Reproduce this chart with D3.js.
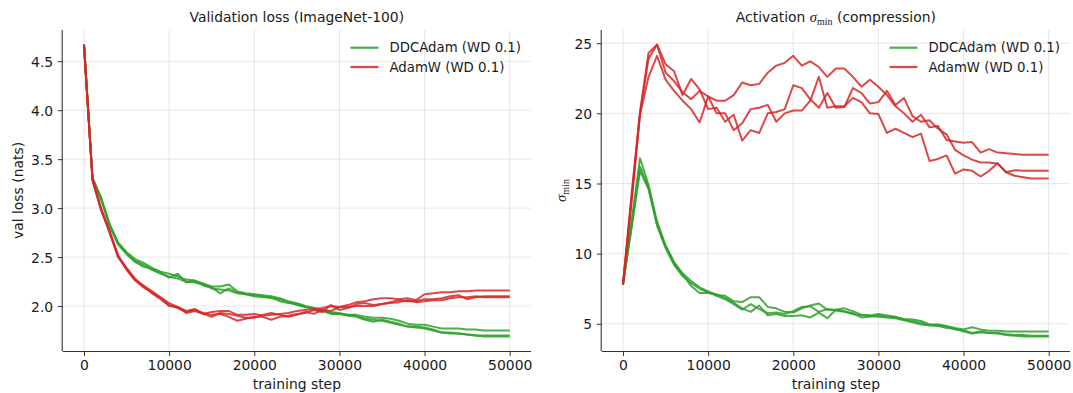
<!DOCTYPE html>
<html>
<head>
<meta charset="utf-8">
<script src="https://cdn.jsdelivr.net/npm/d3@7"></script>
<style>
  html, body { margin: 0; padding: 0; background: #ffffff; }
  svg { display: block; }
  text { font-family: "DejaVu Sans", sans-serif; fill: #1a1a1a; }
</style>
</head>
<body>
<svg id="chart" width="1073" height="393"></svg>
<script>
// Evaluation steps (every 1000 training steps)
const steps = [0,1000,2000,3000,4000,5000,6000,7000,8000,9000,10000,11000,12000,13000,14000,15000,16000,17000,18000,19000,20000,21000,22000,23000,24000,25000,26000,27000,28000,29000,30000,31000,32000,33000,34000,35000,36000,37000,38000,39000,40000,41000,42000,43000,44000,45000,46000,47000,48000,49000,50000];

// Validation loss, three seeds per optimizer
const lossDDCAdamSeed1 = [4.67,3.31,3.11,2.84,2.65,2.55,2.48,2.44,2.39,2.35,2.33,2.30,2.27,2.26,2.23,2.20,2.20,2.22,2.15,2.13,2.12,2.11,2.10,2.08,2.05,2.03,2.00,1.98,1.96,1.94,1.93,1.91,1.91,1.89,1.88,1.88,1.87,1.85,1.82,1.81,1.81,1.79,1.77,1.77,1.77,1.76,1.76,1.75,1.75,1.75,1.75];
const lossDDCAdamSeed2 = [4.67,3.30,3.09,2.82,2.63,2.53,2.45,2.40,2.38,2.34,2.29,2.33,2.24,2.26,2.21,2.19,2.13,2.18,2.14,2.12,2.11,2.10,2.08,2.07,2.04,2.01,1.99,1.97,1.95,1.93,1.92,1.90,1.89,1.86,1.84,1.86,1.84,1.82,1.79,1.79,1.78,1.76,1.73,1.73,1.72,1.71,1.70,1.70,1.70,1.70,1.70];
const lossDDCAdamSeed3 = [4.67,3.30,3.10,2.83,2.64,2.54,2.46,2.42,2.37,2.33,2.30,2.28,2.25,2.24,2.22,2.18,2.17,2.16,2.13,2.12,2.10,2.09,2.09,2.05,2.03,2.02,1.99,1.98,1.95,1.92,1.92,1.91,1.90,1.87,1.86,1.85,1.83,1.81,1.79,1.78,1.77,1.75,1.73,1.72,1.72,1.71,1.70,1.69,1.69,1.69,1.69];
const lossAdamWSeed1 = [4.67,3.29,2.99,2.75,2.50,2.38,2.27,2.21,2.15,2.09,2.03,1.99,1.95,1.97,1.92,1.94,1.95,1.95,1.91,1.91,1.92,1.90,1.91,1.92,1.93,1.95,1.96,1.97,1.98,2.00,1.99,2.01,2.04,2.05,2.07,2.08,2.08,2.07,2.08,2.06,2.12,2.13,2.14,2.14,2.15,2.15,2.16,2.16,2.16,2.16,2.16];
const lossAdamWSeed2 = [4.67,3.28,2.98,2.76,2.51,2.39,2.28,2.20,2.13,2.07,2.01,1.98,1.94,1.96,1.93,1.91,1.92,1.89,1.85,1.87,1.89,1.89,1.86,1.89,1.90,1.92,1.93,1.96,1.94,2.01,1.96,1.98,2.02,2.03,2.01,2.02,2.04,2.06,2.05,2.05,2.07,2.07,2.08,2.10,2.11,2.07,2.09,2.10,2.10,2.10,2.10];
const lossAdamWSeed3 = [4.67,3.30,3.00,2.77,2.52,2.37,2.26,2.19,2.14,2.08,2.00,1.99,1.93,1.95,1.92,1.89,1.93,1.92,1.90,1.88,1.88,1.91,1.93,1.91,1.89,1.91,1.94,1.92,1.96,1.95,1.99,1.99,2.00,2.00,2.00,2.02,2.03,2.04,2.06,2.04,2.05,2.06,2.06,2.08,2.09,2.09,2.10,2.09,2.09,2.09,2.09];

// Smallest singular value of the activations, three seeds per optimizer
const sigmaDDCAdamSeed1 = [7.8,12.3,16.8,14.9,12.3,10.6,9.4,8.6,8.05,7.6,7.3,7.05,7.0,6.6,6.55,6.9,6.9,6.2,6.1,5.85,5.8,6.1,6.3,6.45,6.0,6.0,5.9,5.75,5.45,5.5,5.6,5.5,5.45,5.35,5.3,5.2,4.95,4.95,4.85,4.7,4.6,4.75,4.6,4.5,4.5,4.45,4.45,4.45,4.45,4.45,4.45];
const sigmaDDCAdamSeed2 = [7.8,11.9,16.2,14.7,12.1,10.5,9.3,8.5,7.7,7.2,7.2,7.1,6.85,6.5,6.1,5.85,6.3,5.6,5.7,5.55,5.55,5.6,5.45,5.8,5.4,6.0,6.1,5.9,5.65,5.6,5.7,5.6,5.5,5.3,5.2,5.05,4.9,4.9,4.8,4.6,4.55,4.35,4.45,4.35,4.35,4.25,4.2,4.2,4.15,4.15,4.15];
const sigmaDDCAdamSeed3 = [7.8,11.8,15.9,14.6,12.0,10.4,9.2,8.4,7.9,7.5,7.25,7.0,6.75,6.4,6.0,6.4,6.05,5.75,5.8,5.7,5.9,6.2,6.25,5.85,6.05,5.95,5.85,5.7,5.6,5.55,5.5,5.45,5.4,5.25,5.1,4.95,4.9,4.85,4.7,4.65,4.45,4.3,4.4,4.35,4.3,4.2,4.15,4.1,4.1,4.1,4.1];
const sigmaAdamWSeed1 = [7.8,14.2,20.1,24.3,24.9,22.9,22.3,21.5,21.0,21.6,21.2,20.9,20.9,21.3,22.2,22.0,22.1,22.9,23.4,23.6,24.1,23.4,23.7,23.3,22.6,23.2,23.2,22.6,21.9,22.4,21.9,21.3,20.5,20.0,19.4,19.9,19.0,19.1,18.1,18.0,17.9,17.95,17.2,17.45,17.2,17.15,17.1,17.05,17.05,17.05,17.05];
const sigmaAdamWSeed2 = [7.8,13.9,20.0,23.9,24.9,23.5,23.0,21.3,22.45,21.7,20.3,20.4,19.4,19.9,18.05,18.8,18.6,20.0,20.1,20.3,22.0,21.8,21.0,20.4,21.45,20.4,20.45,21.8,21.45,20.7,20.8,21.6,20.6,21.1,19.8,19.4,19.5,18.9,18.5,17.4,17.0,16.7,16.5,16.5,16.4,15.8,15.55,15.45,15.35,15.35,15.35];
const sigmaAdamWSeed3 = [7.8,13.6,19.9,22.6,24.1,22.4,21.6,20.9,20.3,19.35,21.2,20.0,20.0,18.8,19.3,20.3,20.4,20.6,19.4,20.0,20.2,20.2,20.9,22.6,20.4,20.5,20.5,21.1,20.8,20.0,19.95,18.6,18.9,18.6,18.3,18.55,16.6,16.75,17.0,15.7,16.0,15.9,15.5,15.9,16.45,15.8,15.95,15.9,15.9,15.9,15.9];

// Tick values and labels
const xTicks = [0,10000,20000,30000,40000,50000];
const lossTicks = [2.0,2.5,3.0,3.5,4.0,4.5];
const sigmaTicks = [5,10,15,20,25];
const seriesNames = ["DDCAdam (WD 0.1)", "AdamW (WD 0.1)"];
const seriesColors = ["#2ca02c", "#d62728"];

const svg = d3.select("#chart");
const FS = 13.9;

function drawPanel(cfg) {
  const { left, right, top, bottom } = cfg;
  const x = d3.scaleLinear().domain([-2500, 52500]).range([left, right]);
  const all = cfg.groups.flat(2);
  const [lo, hi] = d3.extent(all);
  const pad = (hi - lo) * 0.05;
  const y = d3.scaleLinear().domain([lo - pad, hi + pad]).range([bottom, top]);

  const g = svg.append("g");

  // grid
  g.append("g").selectAll("line").data(cfg.yTicks).join("line")
    .attr("x1", left).attr("x2", right)
    .attr("y1", d => y(d)).attr("y2", d => y(d))
    .attr("stroke", "#b0b0b0").attr("stroke-opacity", 0.3).attr("stroke-width", 1);
  g.append("g").selectAll("line").data(xTicks).join("line")
    .attr("y1", top).attr("y2", bottom)
    .attr("x1", d => x(d)).attr("x2", d => x(d))
    .attr("stroke", "#b0b0b0").attr("stroke-opacity", 0.3).attr("stroke-width", 1);

  // series lines
  const line = d3.line().x((d, i) => x(steps[i])).y(d => y(d));
  cfg.groups.forEach((seeds, gi) => {
    seeds.forEach(vals => {
      g.append("path").datum(vals)
        .attr("d", line)
        .attr("fill", "none")
        .attr("stroke", seriesColors[gi])
        .attr("stroke-opacity", 0.85)
        .attr("stroke-width", 2)
        .attr("stroke-linejoin", "round");
    });
  });

  // axes
  const xAxis = d3.axisBottom(x).tickValues(xTicks).tickFormat(d3.format("d"))
    .tickSize(4.9).tickPadding(4.6);
  const gx = g.append("g").attr("transform", `translate(0,${bottom})`).call(xAxis);
  gx.select(".domain").attr("d", `M${left},0.5H${right}`);
  const yAxis = d3.axisLeft(y).tickValues(cfg.yTicks).tickFormat(cfg.yFormat)
    .tickSize(4.9).tickPadding(4.6);
  const gy = g.append("g").attr("transform", `translate(${left},0)`).call(yAxis);
  gy.select(".domain").attr("d", `M-0.5,${top}V${bottom}`);
  [gx, gy].forEach(a => {
    a.select(".domain").attr("stroke", "#333").attr("stroke-width", 1.1);
    a.selectAll(".tick line").attr("stroke", "#333").attr("stroke-width", 1);
    a.selectAll(".tick text").attr("font-size", FS).attr("font-family", "DejaVu Sans").attr("fill", "#1a1a1a");
  });
  gx.selectAll(".tick text").attr("dy", "0.71em");
  gy.selectAll(".tick text").attr("dy", "0.36em");

  // x label
  g.append("text").attr("x", (left + right) / 2).attr("y", 389)
    .attr("text-anchor", "middle").attr("font-size", FS).text("training step");

  // title and y label
  cfg.title(g.append("text").attr("x", (left + right) / 2).attr("y", 21.7)
    .attr("text-anchor", "middle").attr("font-size", FS));
  cfg.ylabel(g);

  // legend, anchored to the upper right corner, entries share one column
  const rowY = [47.7, 67];
  const labels = seriesNames.map((name, i) =>
    g.append("text").attr("font-size", 13.3).attr("y", rowY[i]).attr("dy", "0.36em").text(name));
  const maxW = d3.max(labels, t => t.node().getComputedTextLength());
  const tx = right - 10 - maxW;
  labels.forEach((t, i) => {
    t.attr("x", tx);
    g.append("line").attr("x1", tx - 39).attr("x2", tx - 11)
      .attr("y1", rowY[i]).attr("y2", rowY[i])
      .attr("stroke", seriesColors[i]).attr("stroke-opacity", 0.85).attr("stroke-width", 2.2);
  });
}

// Panel 1: validation loss
drawPanel({
  left: 62.7, right: 531, top: 30, bottom: 351,
  groups: [[lossDDCAdamSeed1, lossDDCAdamSeed2, lossDDCAdamSeed3],
           [lossAdamWSeed1, lossAdamWSeed2, lossAdamWSeed3]],
  yTicks: lossTicks, yFormat: d3.format(".1f"),
  title: t => t.text("Validation loss (ImageNet-100)"),
  ylabel: g => g.append("text")
    .attr("transform", "translate(22.5,190.5) rotate(-90)")
    .attr("text-anchor", "middle").attr("font-size", FS).text("val loss (nats)")
});

// Panel 2: activation sigma_min
function sigmaMin(t, size) {
  t.append("tspan").attr("font-family", "Liberation Serif").attr("font-style", "italic")
    .attr("font-size", size * 1.05).text("σ");
  t.append("tspan").attr("font-family", "Liberation Serif")
    .attr("font-size", size * 0.72).attr("dy", size * 0.22).text("min");
}
drawPanel({
  left: 601.7, right: 1070, top: 30, bottom: 351,
  groups: [[sigmaDDCAdamSeed1, sigmaDDCAdamSeed2, sigmaDDCAdamSeed3],
           [sigmaAdamWSeed1, sigmaAdamWSeed2, sigmaAdamWSeed3]],
  yTicks: sigmaTicks, yFormat: d3.format("d"),
  title: t => {
    t.append("tspan").text("Activation ");
    sigmaMin(t, FS);
    t.append("tspan").attr("dy", -FS * 0.22).text(" (compression)");
  },
  ylabel: g => {
    const t = g.append("text")
      .attr("transform", "translate(566,190.5) rotate(-90)")
      .attr("text-anchor", "middle").attr("font-size", FS);
    sigmaMin(t, FS);
  }
});
</script>
</body>
</html>
